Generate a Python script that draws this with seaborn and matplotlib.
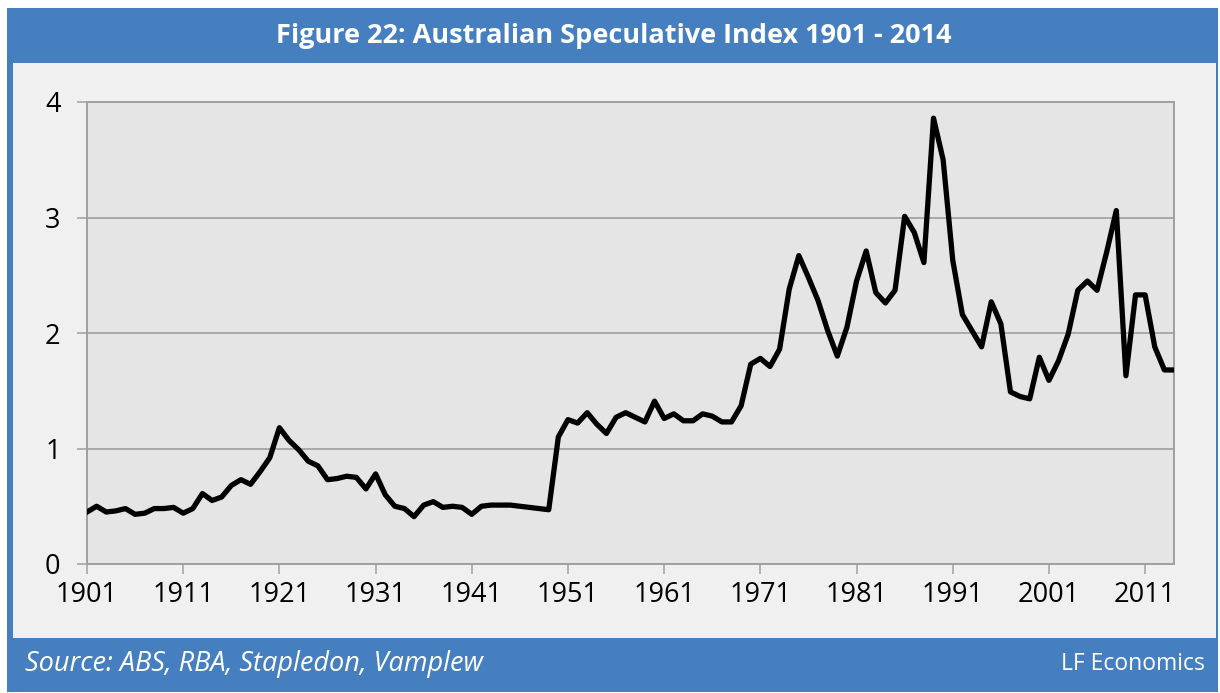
import matplotlib
matplotlib.use("Agg")
import matplotlib.pyplot as plt
from matplotlib.patches import Rectangle
import numpy as np
import pandas as pd
import seaborn as sns

# Australian Speculative Index, annual values 1901-2014
years = list(range(1901, 2015))
index_values = [
    0.45, 0.50, 0.45, 0.46, 0.48, 0.43, 0.44, 0.48, 0.48, 0.49,   # 1901-1910
    0.44, 0.48, 0.61, 0.55, 0.58, 0.68, 0.73, 0.69, 0.80, 0.92,   # 1911-1920
    1.18, 1.07, 0.99, 0.89, 0.85, 0.73, 0.74, 0.76, 0.75, 0.65,   # 1921-1930
    0.78, 0.60, 0.50, 0.48, 0.41, 0.51, 0.54, 0.49, 0.50, 0.49,   # 1931-1940
    0.43, 0.50, 0.51, 0.51, 0.51, 0.50, 0.49, 0.48, 0.47, 1.10,   # 1941-1950
    1.25, 1.22, 1.31, 1.21, 1.13, 1.27, 1.31, 1.27, 1.23, 1.41,   # 1951-1960
    1.26, 1.30, 1.24, 1.24, 1.30, 1.28, 1.23, 1.23, 1.37, 1.73,   # 1961-1970
    1.78, 1.71, 1.86, 2.38, 2.67, 2.48, 2.28, 2.02, 1.80, 2.05,   # 1971-1980
    2.45, 2.71, 2.35, 2.26, 2.37, 3.01, 2.87, 2.61, 3.86, 3.50,   # 1981-1990
    2.63, 2.16, 2.02, 1.88, 2.27, 2.08, 1.49, 1.45, 1.43, 1.79,   # 1991-2000
    1.59, 1.76, 1.99, 2.37, 2.45, 2.37, 2.70, 3.06, 1.63, 2.33,   # 2001-2010
    2.33, 1.88, 1.68, 1.68,                                       # 2011-2014
]
x_ticks = list(range(1901, 2015, 10))
y_ticks = [0, 1, 2, 3, 4]

title_text = "Figure 22: Australian Speculative Index 1901 - 2014"
source_text = "Source: ABS, RBA, Stapledon, Vamplew"
brand_text = "LF Economics"

df = pd.DataFrame({"year": years, "index": index_values})

W, H = 1220, 693
fig = plt.figure(figsize=(W / 100, H / 100), dpi=100, facecolor="white")
plt.rcParams["font.family"] = ["Open Sans", "DejaVu Sans"]

blue = "#467fc0"
panel = "#f0f0f0"

# Outer blue frame and inner light panel, kept behind the axes
fig.patches.append(Rectangle((7 / W, 1 / H), (1218 - 7) / W, (685 - 1) / H,
                             transform=fig.transFigure, facecolor=blue,
                             edgecolor="none", zorder=-10))
fig.patches.append(Rectangle((13 / W, 55 / H), (1216 - 13) / W, (630 - 55) / H,
                             transform=fig.transFigure, facecolor=panel,
                             edgecolor="none", zorder=-9))

ax = fig.add_axes([87 / W, (H - 564) / H, (1174 - 87) / W, (564 - 102) / H])
ax.set_zorder(2)
ax.set_facecolor("#e5e5e5")

sns.lineplot(data=df, x="year", y="index", ax=ax, color="black",
             linewidth=3.8, zorder=3)

ax.set_xlim(1901, 2014)
ax.set_ylim(0, 4)
ax.set_xticks(x_ticks)
ax.set_yticks(y_ticks)
ax.set_xticklabels([str(t) for t in x_ticks])
ax.set_yticklabels([str(t) for t in y_ticks])
ax.set_xlabel("")
ax.set_ylabel("")

grid_col = "#9f9f9f"
ax.set_axisbelow(True)
ax.yaxis.grid(True, color=grid_col, linewidth=1.2)
ax.xaxis.grid(False)
for side in ["left", "right", "top", "bottom"]:
    ax.spines[side].set_color(grid_col)
    ax.spines[side].set_linewidth(1.4)
ax.tick_params(axis="x", length=7, width=1.1, color=grid_col, pad=5,
               labelsize=19.5, labelcolor="black")
ax.tick_params(axis="y", length=7, width=1.1, color=grid_col, pad=12,
               labelsize=19.5, labelcolor="black")

fig.text(614 / W, (H - 36) / H, title_text, ha="center", va="center",
         color="white", fontsize=19.5, fontweight="bold")
fig.text(25 / W, (H - 664) / H, source_text, ha="left", va="center",
         color="white", fontsize=19.5, style="italic")
fig.text(1205 / W, (H - 664) / H, brand_text, ha="right", va="center",
         color="white", fontsize=16.5)

fig.savefig("out.png", dpi=100, facecolor="white")
